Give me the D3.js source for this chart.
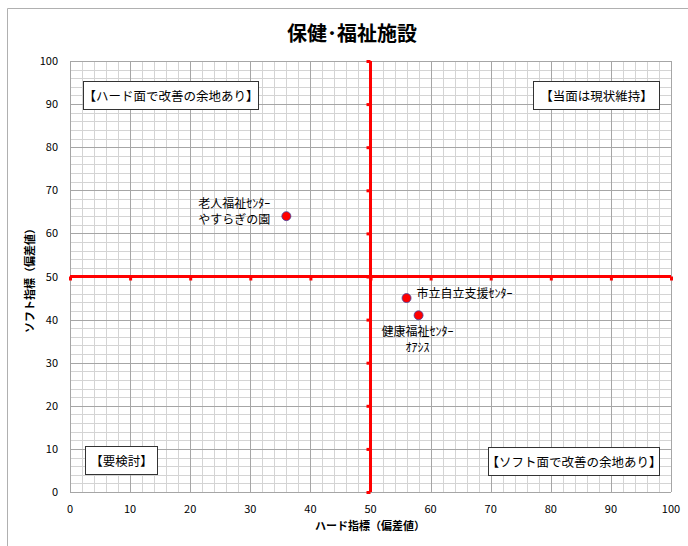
<html lang="ja">
<script src="https://cdnjs.cloudflare.com/ajax/libs/d3/7.7.0/d3.min.js"></script>
<head>
<style>
html, body { margin: 0; padding: 0; background: #fff; }
svg { font-family: 'Noto Sans CJK JP', 'Noto Sans', sans-serif; }
</style>
</head>
<body>
<svg width="688" height="546"></svg>
</body>
<script>
const facilityNames = [['老人福祉ｾﾝﾀｰ', 'やすらぎの園'], ['市立自立支援ｾﾝﾀｰ'], ['健康福祉ｾﾝﾀｰ', 'ｵｱｼｽ']];
const hardScores = [36, 56, 58];
const softScores = [64, 45, 41];
const tickValues = [0, 10, 20, 30, 40, 50, 60, 70, 80, 90, 100];
const quadrantLabels = ['【ハード面で改善の余地あり】', '【当面は現状維持】', '【要検討】', '【ソフト面で改善の余地あり】'];

const svg = d3.select('svg');
const x = d3.scaleLinear().domain([0, 100]).range([70, 671]);
const y = d3.scaleLinear().domain([0, 100]).range([492, 61]);

// outer chart frame
svg.append('path')
  .attr('d', 'M7.5,546 V8.5 H688')
  .attr('fill', 'none')
  .attr('stroke', '#b0b0b0');

// title
svg.append('text')
  .attr('x', 352).attr('y', 41)
  .attr('text-anchor', 'middle')
  .style('font-size', '20px')
  .style('font-weight', 'bold')
  .text('保健･福祉施設');

// grid
const minor = d3.range(0, 101, 2).filter(d => d % 10 !== 0);
const grid = svg.append('g');
grid.selectAll('.vminor').data(minor).enter().append('line')
  .attr('x1', d => Math.round(x(d)) + 0.5).attr('x2', d => Math.round(x(d)) + 0.5)
  .attr('y1', y(0)).attr('y2', y(100))
  .attr('stroke', '#d4d4d4');
grid.selectAll('.hminor').data(minor).enter().append('line')
  .attr('y1', d => Math.round(y(d)) + 0.5).attr('y2', d => Math.round(y(d)) + 0.5)
  .attr('x1', x(0)).attr('x2', x(100))
  .attr('stroke', '#d4d4d4');
grid.selectAll('.vmajor').data(tickValues).enter().append('line')
  .attr('x1', d => Math.round(x(d)) + 0.5).attr('x2', d => Math.round(x(d)) + 0.5)
  .attr('y1', y(0)).attr('y2', y(100))
  .attr('stroke', '#a6a6a6');
grid.selectAll('.hmajor').data(tickValues).enter().append('line')
  .attr('y1', d => Math.round(y(d)) + 0.5).attr('y2', d => Math.round(y(d)) + 0.5)
  .attr('x1', x(0)).attr('x2', x(100))
  .attr('stroke', '#a6a6a6');

// tick labels
svg.selectAll('.ylab').data(tickValues).enter().append('text')
  .attr('x', 58).attr('y', d => y(d) + 4)
  .attr('text-anchor', 'end')
  .style('font-size', '11px')
  .text(d => d);
svg.selectAll('.xlab').data(tickValues).enter().append('text')
  .attr('x', d => x(d)).attr('y', 513)
  .attr('text-anchor', 'middle')
  .style('font-size', '11px')
  .text(d => d);

// axis titles
svg.append('text')
  .attr('x', 370).attr('y', 530)
  .attr('text-anchor', 'middle')
  .style('font-size', '11px')
  .style('font-weight', 'bold')
  .text('ハード指標（偏差値）');
svg.append('text')
  .attr('transform', 'translate(34,278) rotate(-90)')
  .attr('text-anchor', 'middle')
  .style('font-size', '11px')
  .style('font-weight', 'bold')
  .text('ソフト指標（偏差値）');

// red cross lines at 50
const red = svg.append('g');
red.append('line')
  .attr('x1', x(0)).attr('x2', x(100))
  .attr('y1', y(50)).attr('y2', y(50))
  .attr('stroke', '#ff0000').attr('stroke-width', 3);
red.append('line')
  .attr('x1', x(50)).attr('x2', x(50))
  .attr('y1', y(0)).attr('y2', y(100))
  .attr('stroke', '#ff0000').attr('stroke-width', 3);
red.selectAll('.xt').data(tickValues).enter().append('rect')
  .attr('x', d => x(d) - 1).attr('y', y(50))
  .attr('width', 3).attr('height', 4)
  .attr('fill', '#ff0000');
red.selectAll('.yt').data(tickValues).enter().append('rect')
  .attr('x', x(50) - 4).attr('y', d => y(d) - 1)
  .attr('width', 4).attr('height', 3)
  .attr('fill', '#ff0000');

// quadrant label boxes
const boxes = [
  { x0: 2.2, y1: 95.4, w: 175 },
  { x0: 77.1, y1: 95.4, w: 126 },
  { x0: 2.5, y1: 10.7, w: 72 },
  { x0: 69.6, y1: 10.5, w: 171 }
];
const qb = svg.selectAll('.qbox').data(quadrantLabels).enter().append('g')
  .attr('transform', (d, i) => `translate(${Math.round(x(boxes[i].x0)) + 0.5},${Math.round(y(boxes[i].y1)) + 0.5})`);
qb.append('rect')
  .attr('width', (d, i) => boxes[i].w).attr('height', 28)
  .attr('fill', '#fff').attr('stroke', '#333');
qb.append('text')
  .attr('x', (d, i) => boxes[i].w / 2).attr('y', 19)
  .attr('text-anchor', 'middle')
  .style('font-size', '12.5px')
  .text(d => d);

// points
svg.selectAll('.pt').data(hardScores).enter().append('circle')
  .attr('cx', d => x(d))
  .attr('cy', (d, i) => y(softScores[i]))
  .attr('r', 4.5)
  .attr('fill', '#ff0000')
  .attr('stroke', '#4040a0')
  .attr('stroke-width', 0.8);

// point labels
const labelPos = [
  { dx: -52, dy: -8, anchor: 'middle' },
  { dx: 10, dy: 0, anchor: 'start' },
  { dx: -1, dy: 21, anchor: 'middle' }
];
facilityNames.forEach((lines, i) => {
  const t = svg.append('text')
    .attr('text-anchor', labelPos[i].anchor)
    .style('font-size', '12px');
  lines.forEach((line, j) => {
    t.append('tspan')
      .attr('x', x(hardScores[i]) + labelPos[i].dx)
      .attr('y', y(softScores[i]) + labelPos[i].dy + j * 16)
      .text(line);
  });
});
</script>
</html>
